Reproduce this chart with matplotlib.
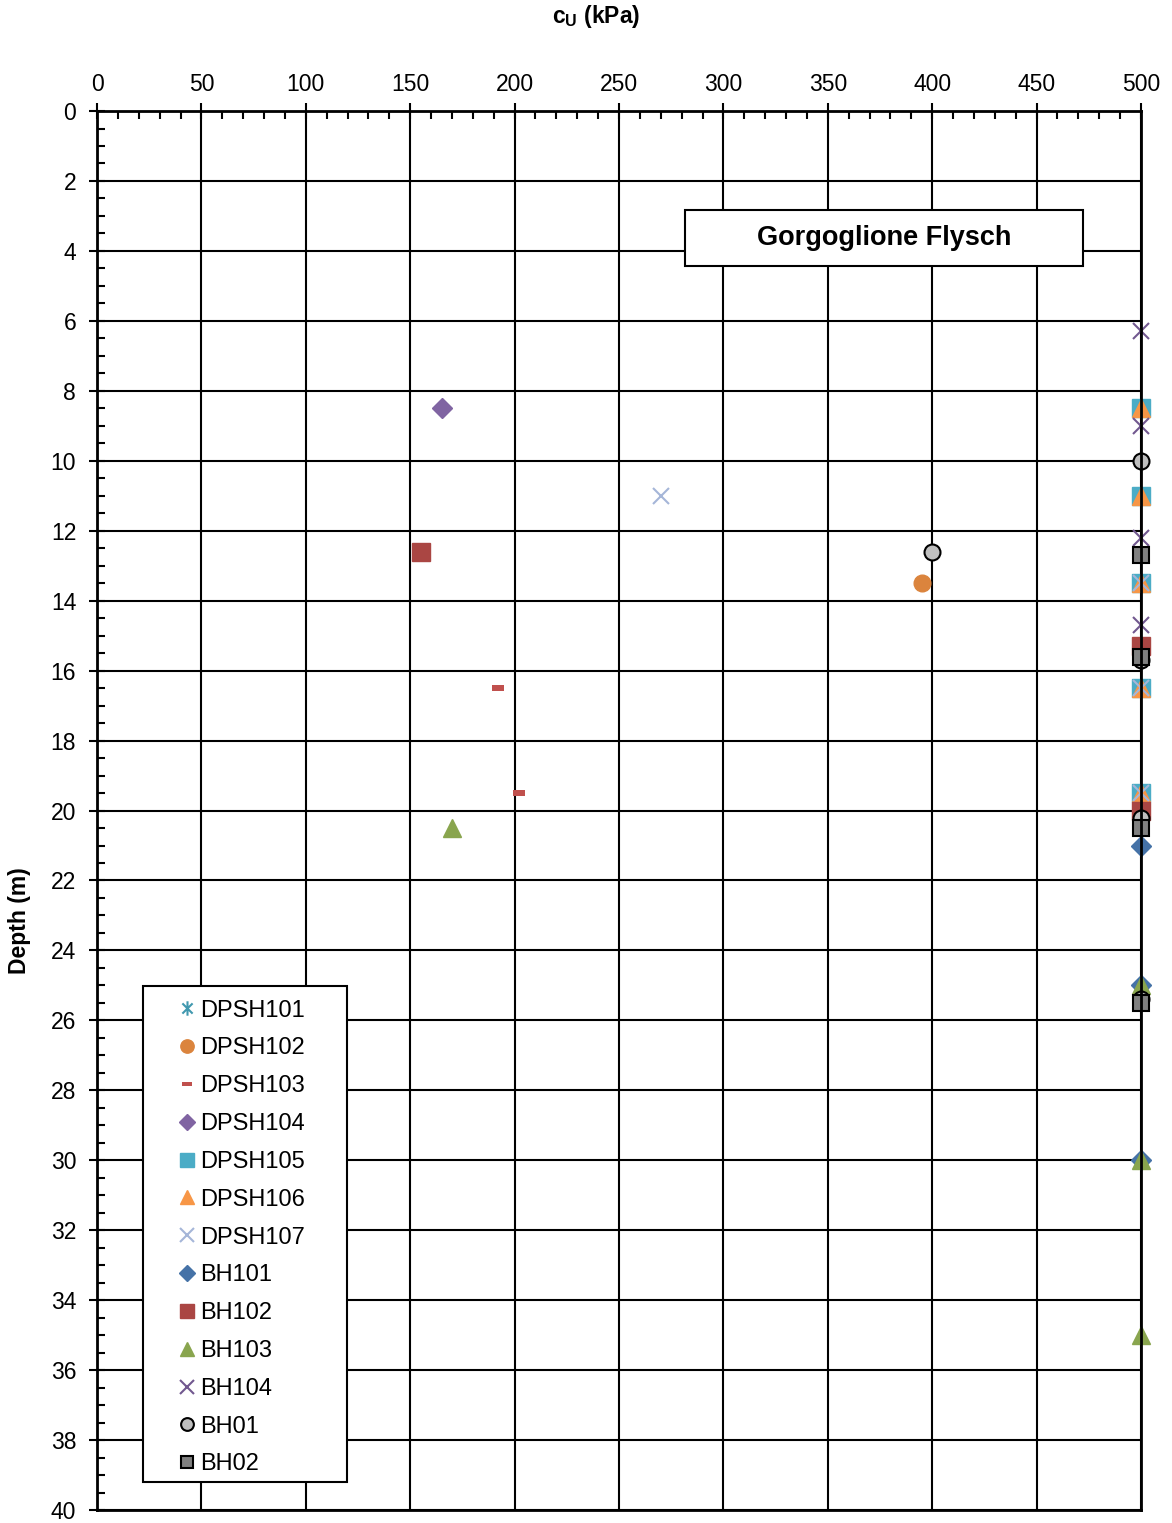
import matplotlib
matplotlib.use("Agg")
import matplotlib.pyplot as plt
from matplotlib.ticker import MultipleLocator
from matplotlib.path import Path
from matplotlib.patches import Rectangle

plt.rcParams['font.family'] = ['Liberation Sans', 'DejaVu Sans']

# Data: (cu kPa, depth m) per series
dpsh101_cu, dpsh101_z = [], []
dpsh102_cu, dpsh102_z = [395], [13.5]
dpsh103_cu, dpsh103_z = [192, 202], [16.5, 19.5]
dpsh104_cu, dpsh104_z = [165], [8.5]
dpsh105_cu, dpsh105_z = [500, 500, 500, 500, 500], [8.5, 11.0, 13.5, 16.5, 19.5]
dpsh106_cu, dpsh106_z = [500, 500, 500, 500, 500], [8.5, 11.0, 13.5, 16.5, 19.5]
dpsh107_cu, dpsh107_z = [270, 500, 500, 500], [11.0, 13.5, 16.5, 19.5]
bh101_cu, bh101_z = [500, 500, 500], [21.0, 25.0, 30.0]
bh102_cu, bh102_z = [155, 500, 500], [12.6, 15.3, 20.0]
bh103_cu, bh103_z = [170, 500, 500, 500], [20.5, 25.0, 30.0, 35.0]
bh104_cu, bh104_z = [500, 500, 500, 500], [6.3, 9.0, 12.2, 14.7]
bh01_cu, bh01_z = [400, 500, 500, 500, 500], [12.6, 10.0, 15.7, 20.2, 25.4]
bh02_cu, bh02_z = [500, 500, 500, 500], [12.7, 15.6, 20.5, 25.5]

W, H = 1172, 1523
fig = plt.figure(figsize=(W / 100, H / 100), dpi=100)
ax = fig.add_axes([0.0828, 0.0085, 0.8907, 0.9186])

ax.set_xlim(0, 500)
ax.set_ylim(40, 0)
ax.xaxis.set_major_locator(MultipleLocator(50))
ax.xaxis.set_minor_locator(MultipleLocator(10))
ax.yaxis.set_major_locator(MultipleLocator(2))
ax.yaxis.set_minor_locator(MultipleLocator(0.5))
ax.xaxis.tick_top()
ax.grid(True, which='major', color='black', linewidth=1.5)
ax.set_axisbelow(True)
for s in ax.spines.values():
    s.set_linewidth(2)
    s.set_color('black')
ax.tick_params(which='major', direction='inout', length=12, width=1.5, labelsize=16.5, pad=9)
ax.tick_params(axis='x', which='major', pad=5)
ax.tick_params(which='minor', direction='in', length=6, width=1.5)
ax.tick_params(axis='x', which='both', top=True, bottom=False)

fig.text(596 / W, 1 - 17 / H, r'c$_\mathregular{U}$ (kPa)', fontsize=16.5,
         fontweight='bold', ha='center', va='center')
fig.text(20 / W, 1 - 921 / H, 'Depth (m)', fontsize=16.5, fontweight='bold',
         ha='center', va='center', rotation=90)

star = Path([(0, -1), (0, 1), (-0.707, -0.707), (0.707, 0.707), (-0.707, 0.707), (0.707, -0.707)],
            [Path.MOVETO, Path.LINETO, Path.MOVETO, Path.LINETO, Path.MOVETO, Path.LINETO])
dash = [(-1, -0.45), (1, -0.45), (1, 0.45), (-1, 0.45), (-1, -0.45)]

kw = dict(linestyle='none', clip_on=False)
ax.plot(dpsh101_cu, dpsh101_z, marker=star, color='#4198AF', ms=13, mew=1.5, label='DPSH101', **kw)
ax.plot(dpsh102_cu, dpsh102_z, marker='o', color='#DB843D', ms=12, label='DPSH102', **kw)
ax.plot(dpsh103_cu, dpsh103_z, marker=dash, color='#C0504D', ms=9, mew=0, label='DPSH103', **kw)
ax.plot(dpsh104_cu, dpsh104_z, marker='D', color='#8064A2', ms=10, label='DPSH104', **kw)
ax.plot(dpsh105_cu, dpsh105_z, marker='s', color='#4BACC6', ms=13, label='DPSH105', **kw)
ax.plot(dpsh106_cu, dpsh106_z, marker='^', color='#F79646', ms=13, label='DPSH106', **kw)
ax.plot(dpsh107_cu, dpsh107_z, marker='x', color='#A5B6D8', ms=12, mew=1.5, label='DPSH107', **kw)
ax.plot(bh101_cu, bh101_z, marker='D', color='#4572A7', ms=10, label='BH101', **kw)
ax.plot(bh102_cu, bh102_z, marker='s', color='#AA4643', ms=13, label='BH102', **kw)
ax.plot(bh103_cu, bh103_z, marker='^', color='#89A54E', ms=13, label='BH103', **kw)
ax.plot(bh104_cu, bh104_z, marker='x', color='#71588F', ms=12, mew=1.5, label='BH104', **kw)
ax.plot(bh01_cu, bh01_z, marker='o', color='#BFBFBF', mec='black', mew=1.5, ms=11.5, label='BH01', **kw)
ax.plot(bh02_cu, bh02_z, marker='s', color='#808080', mec='black', mew=1.5, ms=11, label='BH02', **kw)

# legend frame drawn separately (pixel box 143..347 x 986..1482)
fig.patches.append(Rectangle((143 / W, 1 - 1482 / H), (347 - 143) / W, (1482 - 986) / H,
                             transform=fig.transFigure, facecolor='white', edgecolor='black',
                             linewidth=1.5, zorder=4))
# move patch above axes content by drawing it within axes instead
fig.patches.pop()
ax.add_patch(Rectangle((143 / W, 1 - 1482 / H), (347 - 143) / W, (1482 - 986) / H,
                       transform=fig.transFigure, facecolor='white', edgecolor='black',
                       linewidth=1.5, zorder=4, clip_on=False))

leg = fig.legend(*ax.get_legend_handles_labels(), loc='upper left',
                 bbox_to_anchor=(166 / W, 1 - 989 / H), fontsize=17, frameon=False,
                 handlelength=0.9, handletextpad=0.1, labelspacing=0.67,
                 borderpad=0.45, borderaxespad=0, markerscale=0.8)
leg.set_zorder(6)

# title box
x0 = (685 - 97) / 1044
x1 = (1083 - 97) / 1044
y_top = 1 - (210 - 111) / 1399
y_bot = 1 - (266 - 111) / 1399
ax.add_patch(Rectangle((x0, y_bot), x1 - x0, y_top - y_bot, transform=ax.transAxes,
                       facecolor='white', edgecolor='black', linewidth=1.5, zorder=5))
ax.text((x0 + x1) / 2, (y_top + y_bot) / 2, 'Gorgoglione Flysch', transform=ax.transAxes,
        fontsize=19.5, fontweight='bold', ha='center', va='center', zorder=6)

fig.savefig('out.png', dpi=100)
